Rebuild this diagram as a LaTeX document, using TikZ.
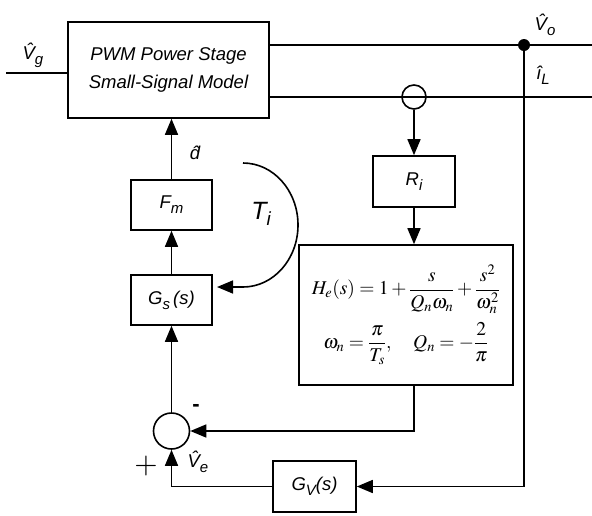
\documentclass[tikz,border=0pt]{standalone}
\usepackage{amsmath}
\usepackage{mathptmx}
\usepackage[no-math]{fontspec}
\setmainfont{Liberation Sans}
\usetikzlibrary{arrows.meta, positioning}

\newcommand{\lbl}{\fontsize{18.5}{28}\selectfont\itshape}
\newcommand{\eqfont}{\fontsize{19.5}{24}\selectfont}
\newcommand{\lsub}[1]{\raisebox{-0.28em}{\fontsize{15}{15}\selectfont #1}}

\begin{document}
\begin{tikzpicture}[
    x=1pt, y=-1pt,
    >={Triangle[length=16pt, width=13pt]},
    line width=1.6pt,
    every node/.style={font=\lbl},
    block/.style={draw, rectangle, inner sep=0pt, line width=1.6pt},
]
\useasboundingbox (0,0) rectangle (592,515);

% Blocks
\node[block, minimum width=201pt, minimum height=96pt, align=center] (pwm) at (168.5,70)
    {PWM Power Stage\\Small-Signal Model};
\node[block, minimum width=81pt, minimum height=50pt] (fm) at (171.5,205) {F\lsub{m}};
\node[block, minimum width=81pt, minimum height=50pt] (gs) at (171.5,300) {G\lsub{s}\,(s)};
\node[block, minimum width=82pt, minimum height=51pt] (ri) at (414,181.5) {R\lsub{i}};
\node[block, minimum width=214pt, minimum height=140pt, align=center, font=\eqfont] (he) at (406,315)
    {$H_e(s)=1+\dfrac{s}{Q_n\omega_n}+\dfrac{s^2}{\omega_n^2}$\\[8pt]
     $\omega_n=\dfrac{\pi}{T_s},\quad Q_n=-\dfrac{2}{\pi}$};
\node[block, minimum width=83pt, minimum height=51pt] (gv) at (314.5,486.5) {G\lsub{V}(s)};

% Summing junction, current sense and tap
\node[draw, circle, minimum size=36pt, inner sep=0pt] (sum) at (171.5,431) {};
\node[draw, circle, minimum size=24pt, inner sep=0pt] (sense) at (414,97) {};
\node[fill, circle, minimum size=12pt, inner sep=0pt] (tap) at (524,45) {};

% Input and output lines
\coordinate (vgin) at (6,73);
\coordinate (voend) at (592,45);
\coordinate (ilend) at (592,97);
\draw (vgin) -- (vgin -| pwm.west);
\draw (voend -| pwm.east) -- (voend);
\draw (ilend -| pwm.east) -- (ilend);

% Current loop
\draw[->] (sense.south) -- (ri.north);
\draw[->] (ri.south) -- (ri.south |- he.north);
\draw[->] (he.south -| ri) -- (ri |- sum.east) -- (sum.east);
\draw[->] (sum.north) -- (gs.south);
\draw[->] (gs.north) -- (fm.south);
\draw[->] (fm.north) -- (fm.north |- pwm.south);

% Voltage loop
\draw[->] (tap.center) -- (tap |- gv.east) -- (gv.east);
\draw[->] (gv.west) -- (gv.west -| sum.south) -- (sum.south);

% Loop gain arc
\coordinate (tistart) at (243,163);
\coordinate (tiend) at (217,287);
\draw[->] (tistart) arc[start angle=-90, end angle=90, x radius=55, y radius=62] -- (tiend);

% Labels
\node (vglbl) at (33,55) {\^{V}\lsub{g}};
\node (volbl) at (545,25) {\^{V}\lsub{o}};
\node (illbl) at (543,75) {\^{\i}\lsub{L}};
\node (dlbl) at (195,153) {\^{d}};
\node[font=\fontsize{25}{25}\selectfont\itshape] (tilbl) at (261,214) {T\raisebox{-0.25em}{\fontsize{19}{19}\selectfont i}};
\node[font=\fontsize{22}{22}\selectfont\bfseries] (minus) at (196,408) {-};
\node[font=\fontsize{30}{30}\selectfont] (plus) at (146,466) {$+$};
\node (velbl) at (198,462) {\^{V}\lsub{e}};

\end{tikzpicture}
\end{document}
